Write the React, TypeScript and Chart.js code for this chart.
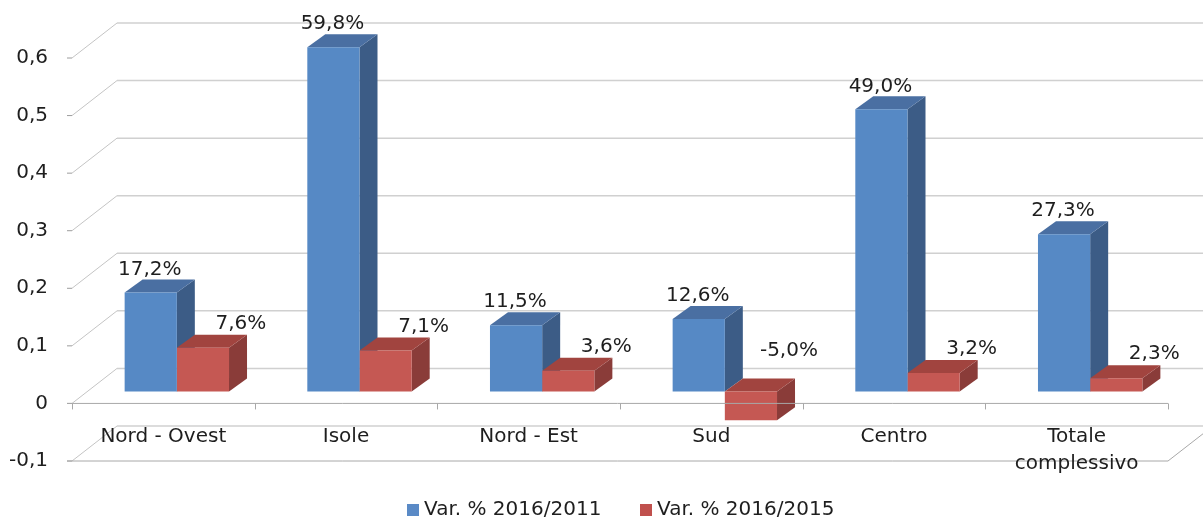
import React, { useEffect, useRef } from 'react';
import { Chart, registerables } from 'chart.js';

Chart.register(...registerables);

// ---- data ----
const categories: (string | string[])[] = ['Nord - Ovest', 'Isole', 'Nord - Est', 'Sud', 'Centro', ['Totale', 'complessivo']];
const var2016_2011 = [0.172, 0.598, 0.115, 0.126, 0.49, 0.273];
const var2016_2015 = [0.076, 0.071, 0.036, -0.05, 0.032, 0.023];
const seriesNames = ['Var. % 2016/2011', 'Var. % 2016/2015'];
const yMin = -0.1;
const yMax = 0.6;
const yStep = 0.1;

// ---- style ----
const FONT = 'DejaVu Sans';
const TEXT = '#1e1e1e';
const FRONT = ['#5689C5', '#C55853'];
const SIDE = ['#3C5C86', '#8A3C39'];
const TOPC = ['#4A6FA2', '#A1443F'];
const LEGEND = ['#5A8AC6', '#C0504D'];

// 3D geometry (pixels)
const PDX = 13.5, PDY = -12;   // bar plane offset from front plane
const DDX = 18, DDY = -13;     // bar depth
const WDX = 45, WDY = -35;     // back wall offset

const fmtPct = (v: number) => (v * 100).toFixed(1).replace('.', ',') + '%';

const threeD = {
  id: 'threeD',
  beforeDatasetsDraw(chart: any) {
    const { ctx, chartArea, scales } = chart;
    const y = scales.y;
    const left = chartArea.left, right = chartArea.right;
    ctx.save();
    // back wall gridlines + side wall diagonals + front tick marks
    for (let v = yMin; v <= yMax + 1e-9; v += yStep) {
      const fy = y.getPixelForValue(v);
      ctx.strokeStyle = '#d0d0d0';
      ctx.lineWidth = 1.5;
      ctx.beginPath();
      ctx.moveTo(left + WDX, fy + WDY);
      ctx.lineTo(right + WDX, fy + WDY);
      ctx.stroke();
      ctx.strokeStyle = '#c4c4c4';
      ctx.lineWidth = 1;
      ctx.beginPath();
      ctx.moveTo(left, fy);
      ctx.lineTo(left + WDX, fy + WDY);
      ctx.stroke();
      ctx.strokeStyle = '#9c9c9c';
      ctx.beginPath();
      ctx.moveTo(left - 5, fy);
      ctx.lineTo(left, fy);
      ctx.stroke();
    }
    // floor front edge at min + right diagonal
    const by = y.getPixelForValue(yMin);
    ctx.strokeStyle = '#a8a8a8';
    ctx.lineWidth = 1;
    ctx.beginPath();
    ctx.moveTo(left - 5, by);
    ctx.lineTo(right, by);
    ctx.lineTo(right + WDX, by + WDY);
    ctx.stroke();

    // side and top faces of bars
    chart.data.datasets.forEach((ds: any, di: number) => {
      const meta = chart.getDatasetMeta(di);
      meta.data.forEach((el: any) => {
        const p = el.getProps(['x', 'y', 'base', 'width'], true);
        const xl = p.x - p.width / 2 + PDX;
        const xr = p.x + p.width / 2 + PDX;
        const top = Math.min(p.y, p.base) + PDY;
        const bot = Math.max(p.y, p.base) + PDY;
        ctx.fillStyle = SIDE[di];
        ctx.beginPath();
        ctx.moveTo(xr, top);
        ctx.lineTo(xr + DDX, top + DDY);
        ctx.lineTo(xr + DDX, bot + DDY);
        ctx.lineTo(xr, bot);
        ctx.closePath();
        ctx.fill();
        ctx.fillStyle = TOPC[di];
        ctx.beginPath();
        ctx.moveTo(xl, top);
        ctx.lineTo(xr, top);
        ctx.lineTo(xr + DDX, top + DDY);
        ctx.lineTo(xl + DDX, top + DDY);
        ctx.closePath();
        ctx.fill();
      });
    });
    ctx.restore();
    ctx.save();
    ctx.translate(PDX, PDY);
  },
  afterDatasetsDraw(chart: any) {
    const { ctx, chartArea, scales } = chart;
    ctx.restore();
    const x = scales.x, y = scales.y;
    const left = chartArea.left, right = chartArea.right;
    ctx.save();
    // horizontal axis at 0 (front)
    const zy = y.getPixelForValue(0);
    ctx.strokeStyle = '#a8a8a8';
    ctx.lineWidth = 1;
    ctx.beginPath();
    ctx.moveTo(left - 5, zy);
    ctx.lineTo(right, zy);
    ctx.stroke();
    const n = chart.data.labels.length;
    const step = (right - left) / n;
    for (let k = 0; k <= n; k++) {
      const tx = Math.round(left + k * step) + 0.5;
      ctx.beginPath();
      ctx.moveTo(tx, zy);
      ctx.lineTo(tx, zy + 6);
      ctx.stroke();
    }

    // data labels
    ctx.font = `20px "${FONT}"`;
    ctx.fillStyle = TEXT;
    ctx.textAlign = 'center';
    ctx.textBaseline = 'middle';
    chart.data.datasets.forEach((ds: any, di: number) => {
      const meta = chart.getDatasetMeta(di);
      meta.data.forEach((el: any, i: number) => {
        const p = el.getProps(['x', 'y', 'base', 'width'], true);
        const v = ds.data[i];
        const top = Math.min(p.y, p.base) + PDY + DDY;
        const lx = p.x + PDX + (di === 1 ? 38 : -1);
        const ly = top - (di === 1 ? 11 : 10) - (v < 0 ? 17 : 0);
        ctx.fillText(fmtPct(v), lx, ly);
      });
    });

    // category labels
    chart.data.labels.forEach((lab: any, i: number) => {
      const cx = x.getPixelForValue(i);
      const lines = Array.isArray(lab) ? lab : [lab];
      lines.forEach((t: string, j: number) => {
        ctx.fillText(t, cx, 437 + j * 27);
      });
    });

    // legend
    ctx.textAlign = 'left';
    const items = [
      { x: 407, name: seriesNames[0], c: LEGEND[0] },
      { x: 640, name: seriesNames[1], c: LEGEND[1] },
    ];
    items.forEach((it) => {
      ctx.fillStyle = it.c;
      ctx.fillRect(it.x, 504, 12, 12);
      ctx.fillStyle = TEXT;
      ctx.fillText(it.name, it.x + 17, 510);
    });
    ctx.restore();
  },
};

export default function App() {
  const ref = useRef<HTMLCanvasElement>(null);
  useEffect(() => {
    const canvas = ref.current!;
    const chart = new Chart(canvas, {
      type: 'bar',
      data: {
        labels: categories as any,
        datasets: [
          { label: seriesNames[0], data: var2016_2011, backgroundColor: FRONT[0], borderWidth: 0, clip: false as any },
          { label: seriesNames[1], data: var2016_2015, backgroundColor: FRONT[1], borderWidth: 0, clip: false as any },
        ],
      },
      options: {
        responsive: false,
        maintainAspectRatio: false,
        animation: false,
        devicePixelRatio: 1,
        layout: { padding: { top: 58, right: 35, bottom: 60, left: 0 } },
        datasets: { bar: { categoryPercentage: 2 / 3.5, barPercentage: 1 } },
        plugins: { legend: { display: false }, tooltip: { enabled: false } },
        scales: {
          x: { display: false, offset: true },
          y: {
            min: yMin,
            max: yMax,
            grid: { display: false, drawTicks: false },
            border: { display: false },
            ticks: {
              stepSize: yStep,
              padding: 24,
              color: TEXT,
              font: { family: FONT, size: 20 },
              callback: (v: any) => (Math.abs(v) < 1e-9 ? '0' : Number(v).toFixed(1).replace('.', ',')),
            },
            afterFit: (s: any) => { s.width = 72; },
          },
        },
      },
      plugins: [threeD],
    });
    return () => chart.destroy();
  }, []);
  return (
    <div style={{ position: 'fixed', left: 0, top: 0, width: 1203, height: 521, background: '#fff' }}>
      <canvas ref={ref} width={1203} height={521} style={{ display: 'block', width: 1203, height: 521 }} />
    </div>
  );
}
